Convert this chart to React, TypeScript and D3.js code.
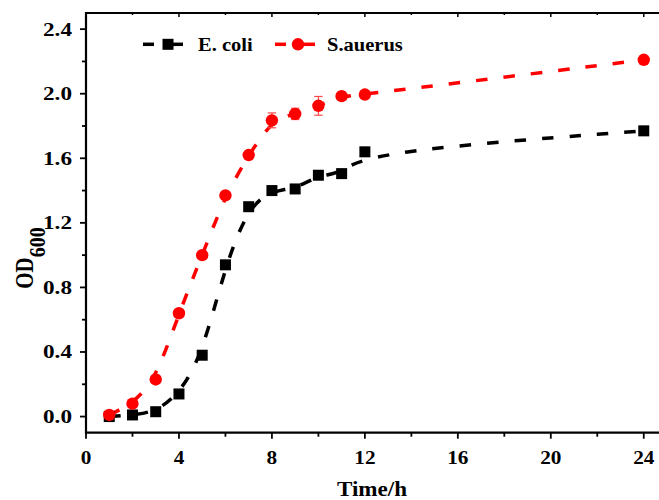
import React, { useRef, useEffect } from 'react';
import * as d3 from 'd3';

const hours = [1, 2, 3, 4, 5, 6, 7, 8, 9, 10, 11, 12, 24];
const ecoli = [0.0, 0.01, 0.03, 0.14, 0.38, 0.94, 1.3, 1.4, 1.41, 1.495, 1.505, 1.64, 1.77];
const saureus = [0.01, 0.08, 0.23, 0.64, 1.0, 1.37, 1.62, 1.835, 1.875, 1.925, 1.985, 1.995, 2.21];
const saureusErr = [0.02, 0.0, 0.0, 0.0, 0.0, 0.0, 0.0, 0.046, 0.035, 0.058, 0.0, 0.0, 0.0];
const xTicks = [0, 4, 8, 12, 16, 20, 24];
const yTicks = [0.0, 0.4, 0.8, 1.2, 1.6, 2.0, 2.4];

const FONT = '"Liberation Serif", "Times New Roman", serif';

const App = () => {
  const ref = useRef<SVGGElement>(null);

  useEffect(() => {
    const g = d3.select(ref.current);
    g.selectAll('*').remove();

    const left = 86, right = 667, top = 13, bottom = 432.7;
    const x = d3.scaleLinear().domain([0, 25]).range([left, right]);
    const y = d3.scaleLinear().domain([-0.1, 2.5]).range([bottom, top]);

    // stretched bold text, like the picture
    const label = (px: number, py: number, txt: string, size: number, sx: number, anchor: string) =>
      g.append('text').attr('transform', `translate(${px},${py}) scale(${sx},1)`)
        .attr('text-anchor', anchor).attr('font-family', FONT).attr('font-weight', 'bold')
        .attr('font-size', size).text(txt);

    // frame
    const axisStroke = 2.2;
    g.append('line').attr('x1', left).attr('x2', right).attr('y1', bottom).attr('y2', bottom)
      .attr('stroke', '#000').attr('stroke-width', axisStroke);
    g.append('line').attr('x1', left).attr('x2', right).attr('y1', top).attr('y2', top)
      .attr('stroke', '#000').attr('stroke-width', axisStroke);
    g.append('line').attr('x1', left).attr('x2', left).attr('y1', top - 1).attr('y2', bottom + 1)
      .attr('stroke', '#000').attr('stroke-width', axisStroke);

    // x ticks: bottom outward, top inward
    d3.range(0, 25, 2).forEach(v => {
      const major = v % 4 === 0;
      const len = major ? 6 : 4;
      g.append('line').attr('x1', x(v)).attr('x2', x(v)).attr('y1', bottom).attr('y2', bottom + len)
        .attr('stroke', '#000').attr('stroke-width', 1.8);
      g.append('line').attr('x1', x(v)).attr('x2', x(v)).attr('y1', top).attr('y2', top + len - 2)
        .attr('stroke', '#000').attr('stroke-width', 1.5);
    });
    xTicks.forEach(v => label(x(v), 463.5, String(v), 19, 1.12, 'middle'));

    // y ticks
    d3.range(0, 13).map(i => i * 0.2).forEach((v, i) => {
      const major = i % 2 === 0;
      g.append('line').attr('x1', left).attr('x2', left - (major ? 6 : 4)).attr('y1', y(v)).attr('y2', y(v))
        .attr('stroke', '#000').attr('stroke-width', 1.8);
    });
    yTicks.forEach(v => label(72, y(v) + 6.5, v.toFixed(1), 19, 1.22, 'end'));

    // axis titles
    label(372, 496, 'Time/h', 22, 1.05, 'middle');
    const yl = g.append('text').attr('transform', 'translate(33,258) rotate(-90) scale(1,1.15)')
      .attr('text-anchor', 'middle').attr('font-family', FONT).attr('font-weight', 'bold').attr('font-size', 21);
    yl.append('tspan').text('OD');
    yl.append('tspan').attr('dy', 10).attr('font-size', 20).text('600');

    // B-spline connection, as in the source plot
    const line = d3.line<[number, number]>().x(d => x(d[0])).y(d => y(d[1])).curve(d3.curveBasis);

    const series = [
      { vals: ecoli, color: '#000' },
      { vals: saureus, color: '#ff0000' },
    ];
    series.forEach(s => {
      const pts = hours.map((h, i) => [h, s.vals[i]] as [number, number]);
      g.append('path').attr('d', line(pts)).attr('fill', 'none').attr('stroke', s.color)
        .attr('stroke-width', 3.5).attr('stroke-dasharray', '11.5,16');
    });

    // error bars for S. aureus
    hours.forEach((h, i) => {
      const e = saureusErr[i];
      if (e <= 0) return;
      const cx = x(h);
      g.append('line').attr('x1', cx).attr('x2', cx).attr('y1', y(saureus[i] - e)).attr('y2', y(saureus[i] + e))
        .attr('stroke', '#ff4a4a').attr('stroke-width', 1.2);
      [saureus[i] - e, saureus[i] + e].forEach(v => {
        g.append('line').attr('x1', cx - 4.2).attr('x2', cx + 4.2).attr('y1', y(v)).attr('y2', y(v))
          .attr('stroke', '#ff4a4a').attr('stroke-width', 1.2);
      });
    });

    // markers
    g.selectAll('rect.pt').data(hours).enter().append('rect').attr('class', 'pt')
      .attr('x', d => x(d) - 5.5).attr('y', (d, i) => y(ecoli[i]) - 5.5)
      .attr('width', 11).attr('height', 11).attr('fill', '#000');
    g.selectAll('circle.pt').data(hours).enter().append('circle').attr('class', 'pt')
      .attr('cx', d => x(d)).attr('cy', (d, i) => y(saureus[i]))
      .attr('r', 6.2).attr('fill', '#ff0000');

    // legend
    const ly = 44.3;
    const legend = [
      { name: 'E. coli', color: '#000', x0: 143, mx: 168, tx: 198, shape: 'square' },
      { name: 'S.auerus', color: '#ff0000', x0: 275, mx: 298, tx: 327, shape: 'circle' },
    ];
    legend.forEach(l => {
      g.append('line').attr('x1', l.x0).attr('x2', l.x0 + 11).attr('y1', ly).attr('y2', ly)
        .attr('stroke', l.color).attr('stroke-width', 3.5);
      g.append('line').attr('x1', l.mx).attr('x2', l.x0 + 40).attr('y1', ly).attr('y2', ly)
        .attr('stroke', l.color).attr('stroke-width', 3.5);
      if (l.shape === 'square') {
        g.append('rect').attr('x', l.mx - 5.5).attr('y', ly - 5.5).attr('width', 11).attr('height', 11).attr('fill', l.color);
      } else {
        g.append('circle').attr('cx', l.mx).attr('cy', ly).attr('r', 6.2).attr('fill', l.color);
      }
      label(l.tx, ly + 6.5, l.name, 19, 1.08, 'start');
    });
  }, []);

  return (
    <svg width={659} height={500} style={{ position: 'absolute', left: 0, top: 0, background: '#fff' }}>
      <g ref={ref} />
    </svg>
  );
};

export default App;
